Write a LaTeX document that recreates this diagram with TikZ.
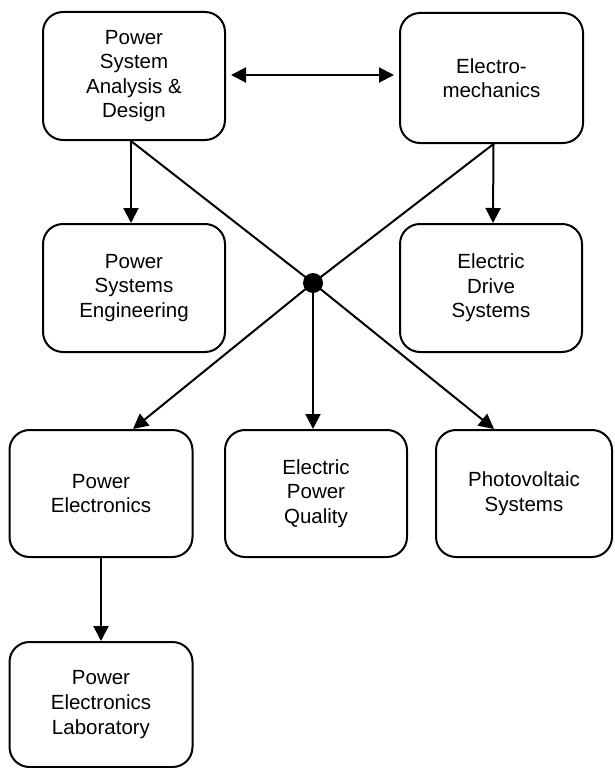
\documentclass[tikz,border=0pt]{standalone}
\usepackage{fontspec}
\setmainfont{Liberation Sans}
\usetikzlibrary{arrows.meta}
\begin{document}
\begin{tikzpicture}[x=1pt,y=-1pt,
  box/.style={draw=black,line width=2pt,rounded corners=20pt,align=center,
    font=\fontsize{20.5}{24.6}\selectfont,inner sep=0pt},
  conn/.style={draw=black,line width=2pt},
  arr/.style={conn,-{Triangle[length=15pt,width=15pt]}},
  darr/.style={conn,{Triangle[length=15pt,width=15pt]}-{Triangle[length=15pt,width=15pt]}}]
\useasboundingbox (0,0) rectangle (614,768);
\node[box,minimum width=182pt,minimum height=128pt] (b1) at (134,76) {Power\\System\\Analysis \&\\Design};
\node[box,minimum width=183pt,minimum height=130pt] (b2) at (491.5,78) {Electro-\\mechanics};
\node[box,minimum width=182pt,minimum height=128pt] (b3) at (134,288) {Power\\Systems\\Engineering};
\node[box,minimum width=182pt,minimum height=128pt] (b4) at (491,288) {Electric\\Drive\\Systems};
\node[box,minimum width=183pt,minimum height=127pt] (b5) at (101,493.5) {Power\\Electronics};
\node[box,minimum width=182pt,minimum height=127pt] (b6) at (316,493.5) {Electric\\Power\\Quality};
\node[box,minimum width=176pt,minimum height=127pt] (b7) at (524,493.5) {Photovoltaic\\Systems};
\node[box,minimum width=183pt,minimum height=125pt] (b8) at (101,704.5) {Power\\Electronics\\Laboratory};
\fill[black] (313,283) circle (10pt);
\coordinate (hub) at (313,283);
\coordinate (b1out) at ([xshift=-3pt]b1.south);
\coordinate (b2out) at ([xshift=2pt]b2.south);
% double arrow
\draw[darr,shorten <=5pt,shorten >=5pt] (b1.east |- 0,75) -- (b2.west |- 0,75);
% verticals
\draw[arr] (b1out) -- ([xshift=-3pt]b3.north);
\draw[arr] (b2out) -- ([xshift=2pt]b4.north);
\draw[arr] (b5.south) -- (b8.north);
% diagonals through hub
\draw[conn] (b1out) -- (hub);
\draw[conn] (b2out) -- (hub);
\draw[arr] (hub) -- ([xshift=32pt]b5.north);
\draw[arr] (hub) -- ([xshift=-3pt]b6.north);
\draw[arr] (hub) -- ([xshift=-30pt]b7.north);
\end{tikzpicture}
\end{document}
